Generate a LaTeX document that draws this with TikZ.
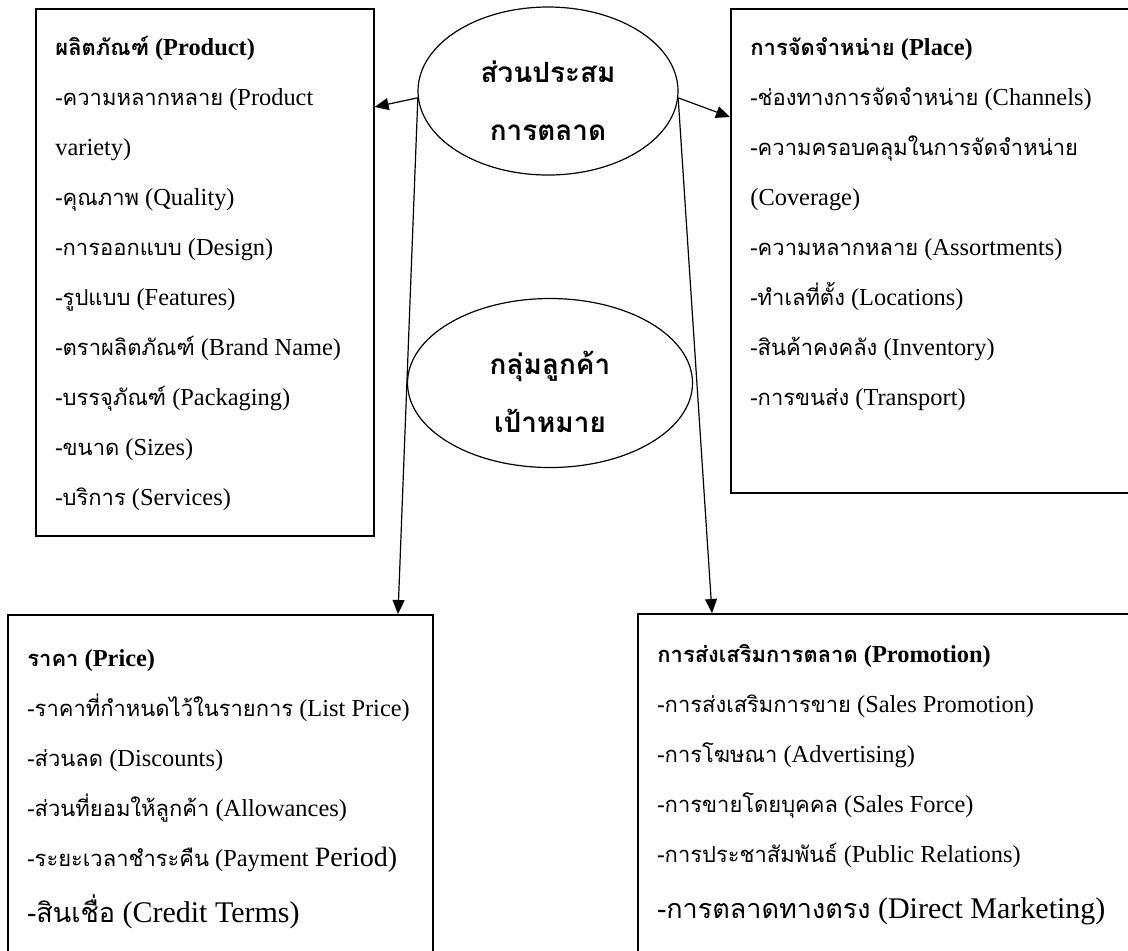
\documentclass[tikz,border=0pt]{standalone}
\usepackage{fontspec}
\setmainfont{Liberation Serif}
\newfontfamily\thaifont[Script=Thai,Scale=0.9]{Loma}
\newcommand{\tf}[1]{{\thaifont #1}}
\usetikzlibrary{calc,arrows.meta,shapes.geometric}

\begin{document}
\begin{tikzpicture}[x=0.5pt, y=-0.5pt,
    box/.style={draw, thick, anchor=north west, inner sep=0pt},
    list/.style={anchor=base west, align=left, inner sep=0pt,
      font=\fontsize{12.2}{25}\selectfont},
    oval/.style={draw, semithick, ellipse, inner sep=0pt,
      align=center, font=\bfseries\fontsize{15.5}{29}\selectfont},
    link/.style={semithick, -{Triangle[length=7pt, width=6pt]}}]
    \useasboundingbox (0,0) rectangle (1128,950);
    \clip (0,0) rectangle (1128,950);

    % boxes
    \node[box, minimum width=169pt, minimum height=263.5pt] (prod) at (35,8) {};
    \node[box, minimum width=215pt, minimum height=242pt] (place) at (730,8) {};
    \node[box, minimum width=212.5pt, minimum height=193pt] (price) at (7,614) {};
    \node[box, minimum width=261.5pt, minimum height=193pt] (promo) at (637,613) {};

    % product (anchor is the last line)
    \node[list] (prodtxt) at (55,505) {%
      \textbf{\tf{ผลิตภัณฑ์} (Product)}\\
      \tf{-ความหลากหลาย} (Product\\
      variety)\\
      \tf{-คุณภาพ} (Quality)\\
      \tf{-การออกแบบ} (Design)\\
      \tf{-รูปแบบ} (Features)\\
      \tf{-ตราผลิตภัณฑ์} (Brand Name)\\
      \tf{-บรรจุภัณฑ์} (Packaging)\\
      \tf{-ขนาด} (Sizes)\\
      \tf{-บริการ} (Services)};

    % place
    \node[list] (placetxt) at (750,405) {%
      \textbf{\tf{การจัดจำหน่าย} (Place)}\\
      \tf{-ช่องทางการจัดจำหน่าย} (Channels)\\
      \tf{-ความครอบคลุมในการจัดจำหน่าย}\\
      (Coverage)\\
      \tf{-ความหลากหลาย} (Assortments)\\
      \tf{-ทำเลที่ตั้ง} (Locations)\\
      \tf{-สินค้าคงคลัง} (Inventory)\\
      \tf{-การขนส่ง} (Transport)};

    % price
    \node[list] (pricetxt) at (27,922) {%
      \textbf{\tf{ราคา} (Price)}\\
      \tf{-ราคาที่กำหนดไว้ในรายการ} (List Price)\\
      \tf{-ส่วนลด} (Discounts)\\
      \tf{-ส่วนที่ยอมให้ลูกค้า} (Allowances)\\
      \tf{-ระยะเวลาชำระคืน} (Payment {\fontsize{14}{25}\selectfont Period)}\\[3pt]
      {\fontsize{15}{25}\selectfont\tf{-สินเชื่อ} (Credit Terms)}};

    % promotion
    \node[list] (promotxt) at (657,918) {%
      \textbf{\tf{การส่งเสริมการตลาด} (Promotion)}\\
      \tf{-การส่งเสริมการขาย} (Sales Promotion)\\
      \tf{-การโฆษณา} (Advertising)\\
      \tf{-การขายโดยบุคคล} (Sales Force)\\
      \tf{-การประชาสัมพันธ์} (Public Relations)\\[3pt]
      {\fontsize{15}{25}\selectfont\tf{-การตลาดทางตรง} (Direct Marketing)}};

    % ellipses
    \node[oval, minimum width=130pt, minimum height=84pt] (mix) at (548,91)
      {\rule{0pt}{21pt}\tf{ส่วนประสม}\\\tf{การตลาด}};
    \node[oval, minimum width=142.5pt, minimum height=84.5pt] (target) at (550,383)
      {\rule{0pt}{21pt}\tf{กลุ่มลูกค้า}\\\tf{เป้าหมาย}};

    % arrows
    \draw[link] (mix.183) -- ($(prod.north east)+(0,99)$);
    \draw[link] (mix.357) -- ($(place.north west)+(0,109)$);
    \draw[link] (mix.183) -- ($(price.north west)+(391,0)$);
    \draw[link] (mix.357) -- ($(promo.north west)+(75,0)$);
\end{tikzpicture}
\end{document}
